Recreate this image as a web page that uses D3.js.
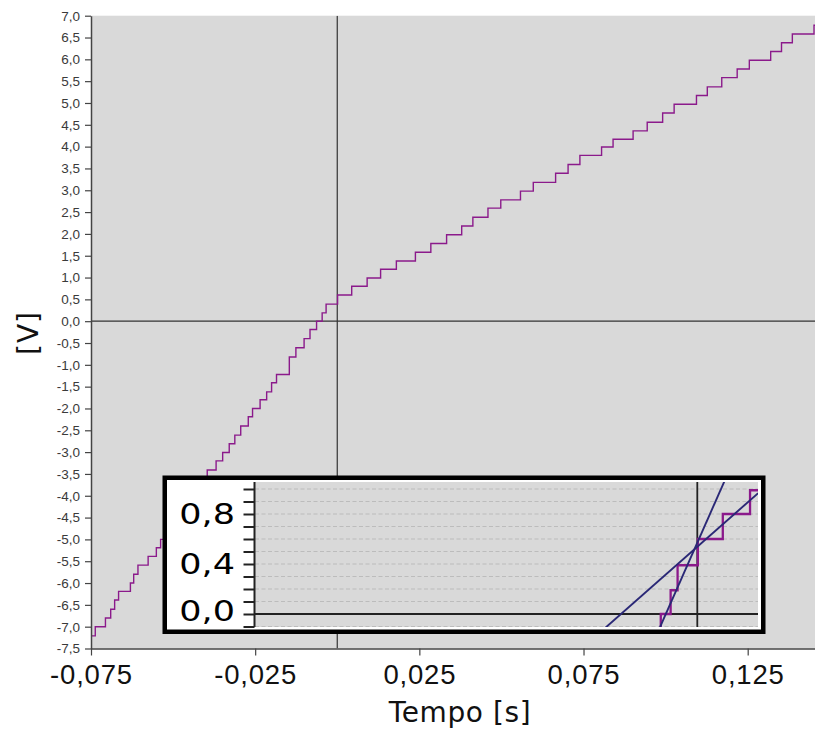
<!DOCTYPE html>
<html>
<head>
<meta charset="utf-8">
<script src="https://cdn.jsdelivr.net/npm/d3@7"></script>
<style>
  body { margin: 0; background: #fff; }
  svg { display: block; font-family: "DejaVu Sans", sans-serif; }
</style>
</head>
<body>
<svg id="chart" width="815" height="729"></svg>
<script>
// step edges: time [s] where the level starts, and the level [V]
const stepTimes = [
  -0.0750, -0.0737, -0.0706, -0.0690, -0.0678, -0.0666, -0.0630, -0.0620, -0.0607, -0.0576,
  -0.0551, -0.0538, -0.0521, -0.0503, -0.0482, -0.0466, -0.0447, -0.0432, -0.0413, -0.0396,
  -0.0369, -0.0349, -0.0329, -0.0312, -0.0294, -0.0271, -0.0258, -0.0235, -0.0215, -0.0200,
  -0.0185, -0.0146, -0.0126, -0.0101, -0.0083, -0.0063, -0.0046, -0.0034, 0.0001, 0.0044,
  0.0091, 0.0132, 0.0180, 0.0238, 0.0285, 0.0333, 0.0379, 0.0413, 0.0459, 0.0498,
  0.0558, 0.0597, 0.0665, 0.0703, 0.0739, 0.0805, 0.0840, 0.0901, 0.0944, 0.0991,
  0.1026, 0.1094, 0.1127, 0.1171, 0.1218, 0.1255, 0.1320, 0.1353, 0.1386, 0.1452,
  0.1460
];
const stepLevels = [
  -7.21, -7.00, -6.80, -6.60, -6.39, -6.19, -6.00, -5.80, -5.59, -5.39,
  -5.19, -5.00, -4.80, -4.60, -4.40, -4.20, -4.00, -3.80, -3.60, -3.41,
  -3.20, -3.01, -2.81, -2.61, -2.40, -2.19, -2.00, -1.80, -1.62, -1.41,
  -1.22, -0.82, -0.61, -0.40, -0.19, 0.00, 0.19, 0.39, 0.60, 0.80,
  0.99, 1.19, 1.38, 1.58, 1.78, 1.98, 2.18, 2.38, 2.59, 2.78,
  2.98, 3.18, 3.39, 3.59, 3.80, 3.99, 4.17, 4.36, 4.56, 4.77,
  4.97, 5.17, 5.37, 5.58, 5.78, 5.98, 6.18, 6.38, 6.58, 6.78,
  6.78
];

// the two straight lines of the inset (end points)
const fitSteepT = [-0.0068, 0.0055];
const fitSteepV = [-0.144, 1.148];
const fitShallowT = [-0.0160, 0.0105];
const fitShallowV = [-0.116, 0.967];

const xTicks = [-0.075, -0.025, 0.025, 0.075, 0.125];
const yTicks = [-7.5, -7.0, -6.5, -6.0, -5.5, -5.0, -4.5, -4.0, -3.5, -3.0, -2.5, -2.0, -1.5, -1.0, -0.5,
  0.0, 0.5, 1.0, 1.5, 2.0, 2.5, 3.0, 3.5, 4.0, 4.5, 5.0, 5.5, 6.0, 6.5, 7.0];
const insetTicks = [-0.1, 0.0, 0.1, 0.2, 0.3, 0.4, 0.5, 0.6, 0.7, 0.8, 0.9, 1.0];
const insetLabels = [0.0, 0.4, 0.8];

const steps = stepTimes.map((t, i) => ({ t: t, v: stepLevels[i] }));
const fitSteep = fitSteepT.map((t, i) => ({ t: t, v: fitSteepV[i] }));
const fitShallow = fitShallowT.map((t, i) => ({ t: t, v: fitShallowV[i] }));

const locale = d3.formatLocale({ decimal: ',', thousands: '.', grouping: [3], currency: ['', ''], minus: '-' });
const fmt1 = locale.format('.1f');
const fmt3 = locale.format('.3f');

const svg = d3.select('#chart');
const purple = '#8b1a8b';

// main plot
const pLeft = 91, pRight = 815, pTop = 15.7, pBottom = 648.5;
const x = d3.scaleLinear().domain([-0.075, 0.1455]).range([pLeft, pRight]);
const y = d3.scaleLinear().domain([-7.5, 7.0]).range([pBottom, pTop]);

svg.append('rect')
  .attr('x', pLeft).attr('y', pTop)
  .attr('width', pRight - pLeft).attr('height', pBottom - pTop)
  .attr('fill', '#d9d9d9');

svg.append('clipPath').attr('id', 'mainClip')
  .append('rect')
  .attr('x', pLeft).attr('y', pTop)
  .attr('width', pRight - pLeft).attr('height', pBottom - pTop);

const plot = svg.append('g').attr('clip-path', 'url(#mainClip)');

plot.append('line')
  .attr('x1', x(0)).attr('x2', x(0))
  .attr('y1', pTop).attr('y2', pBottom)
  .attr('stroke', '#333').attr('stroke-width', 1.2);
plot.append('line')
  .attr('x1', pLeft).attr('x2', pRight)
  .attr('y1', y(0)).attr('y2', y(0))
  .attr('stroke', '#333').attr('stroke-width', 1.2);

const line = d3.line()
  .x(d => x(d.t))
  .y(d => y(d.v))
  .curve(d3.curveStepAfter);

plot.append('path')
  .datum(steps)
  .attr('d', line)
  .attr('fill', 'none')
  .attr('stroke', purple)
  .attr('stroke-width', 1.4);

// axes
const gx = svg.append('g')
  .attr('transform', 'translate(0,' + pBottom + ')')
  .call(d3.axisBottom(x).tickValues(xTicks).tickFormat(fmt3).tickSize(7).tickSizeOuter(0).tickPadding(8.5));
gx.select('.domain').attr('stroke', '#444').attr('stroke-width', 1.5);
gx.selectAll('.tick line').attr('stroke', '#444').attr('stroke-width', 1.2);
gx.selectAll('.tick text').attr('font-size', '27.5px').attr('letter-spacing', '0.8px').attr('fill', '#111');

const gy = svg.append('g')
  .attr('transform', 'translate(' + pLeft + ',0)')
  .call(d3.axisLeft(y).tickValues(yTicks).tickFormat(fmt1).tickSize(6).tickSizeOuter(0).tickPadding(5));
gy.select('.domain').attr('stroke', '#444').attr('stroke-width', 1.5);
gy.selectAll('.tick line').attr('stroke', '#444').attr('stroke-width', 1.2);
gy.selectAll('.tick text').attr('font-size', '13.5px').attr('fill', '#3a3a3a');

svg.append('text')
  .attr('x', 460).attr('y', 722)
  .attr('text-anchor', 'middle')
  .attr('font-size', '28px').attr('letter-spacing', '0.6px').attr('fill', '#111')
  .text('Tempo [s]');

svg.append('text')
  .attr('transform', 'translate(38,333)rotate(-90)')
  .attr('text-anchor', 'middle')
  .attr('font-size', '28px').attr('letter-spacing', '1px').attr('fill', '#111')
  .text('[V]');

// inset
svg.append('rect')
  .attr('x', 164.75).attr('y', 477.75)
  .attr('width', 598.5).attr('height', 154)
  .attr('fill', '#fff')
  .attr('stroke', '#000').attr('stroke-width', 4.5);

const iLeft = 255, iRight = 758, iTop = 482, iBottom = 627;
const ix = d3.scaleLinear().domain([-0.0763, 0.0103]).range([iLeft, 757]);
const iy = d3.scaleLinear().domain([-0.1, 1.0]).range([626.5, 489]);

svg.append('rect')
  .attr('x', iLeft).attr('y', iTop)
  .attr('width', iRight - iLeft).attr('height', iBottom - iTop)
  .attr('fill', '#d9d9d9');

svg.append('clipPath').attr('id', 'insetClip')
  .append('rect')
  .attr('x', iLeft).attr('y', iTop)
  .attr('width', iRight - iLeft).attr('height', iBottom - iTop);

const inset = svg.append('g').attr('clip-path', 'url(#insetClip)');

inset.selectAll('.grid')
  .data(insetTicks.filter(d => d !== 0))
  .enter().append('line')
  .attr('class', 'grid')
  .attr('x1', iLeft).attr('x2', iRight)
  .attr('y1', d => iy(d)).attr('y2', d => iy(d))
  .attr('stroke', '#bcbcbc').attr('stroke-width', 1.2)
  .attr('stroke-dasharray', '4,2.5');

inset.append('line')
  .attr('x1', iLeft).attr('x2', iRight)
  .attr('y1', iy(0)).attr('y2', iy(0))
  .attr('stroke', '#222').attr('stroke-width', 1.8);
inset.append('line')
  .attr('x1', ix(0)).attr('x2', ix(0))
  .attr('y1', iTop).attr('y2', iBottom)
  .attr('stroke', '#222').attr('stroke-width', 1.8);

const iline = d3.line()
  .x(d => ix(d.t))
  .y(d => iy(d.v));

inset.append('path')
  .datum(steps)
  .attr('d', iline.curve(d3.curveStepAfter))
  .attr('fill', 'none')
  .attr('stroke', purple)
  .attr('stroke-width', 2.3);

iline.curve(d3.curveLinear);
[fitShallow, fitSteep].forEach(f => {
  inset.append('path')
    .datum(f)
    .attr('d', iline)
    .attr('fill', 'none')
    .attr('stroke', '#2a2876')
    .attr('stroke-width', 1.9);
});

const giy = svg.append('g')
  .attr('transform', 'translate(' + (iLeft - 0.5) + ',0)')
  .call(d3.axisLeft(iy).tickValues(insetTicks).tickFormat('').tickSize(11).tickSizeOuter(0));
giy.select('.domain').attr('d', 'M0,' + iTop + 'V' + iBottom).attr('stroke', '#222').attr('stroke-width', 2);
giy.selectAll('.tick line').attr('stroke', '#222').attr('stroke-width', 2);

svg.selectAll('.ilabel')
  .data(insetLabels)
  .enter().append('text')
  .attr('class', 'ilabel')
  .attr('transform', d => 'translate(235,' + (iy(d) - (d === 0 ? 3 : 0)) + ')scale(1.25,1)')
  .attr('text-anchor', 'end')
  .attr('dy', '0.36em')
  .attr('font-size', '28px').attr('fill', '#000')
  .text(d => fmt1(d));
</script>
</body>
</html>
